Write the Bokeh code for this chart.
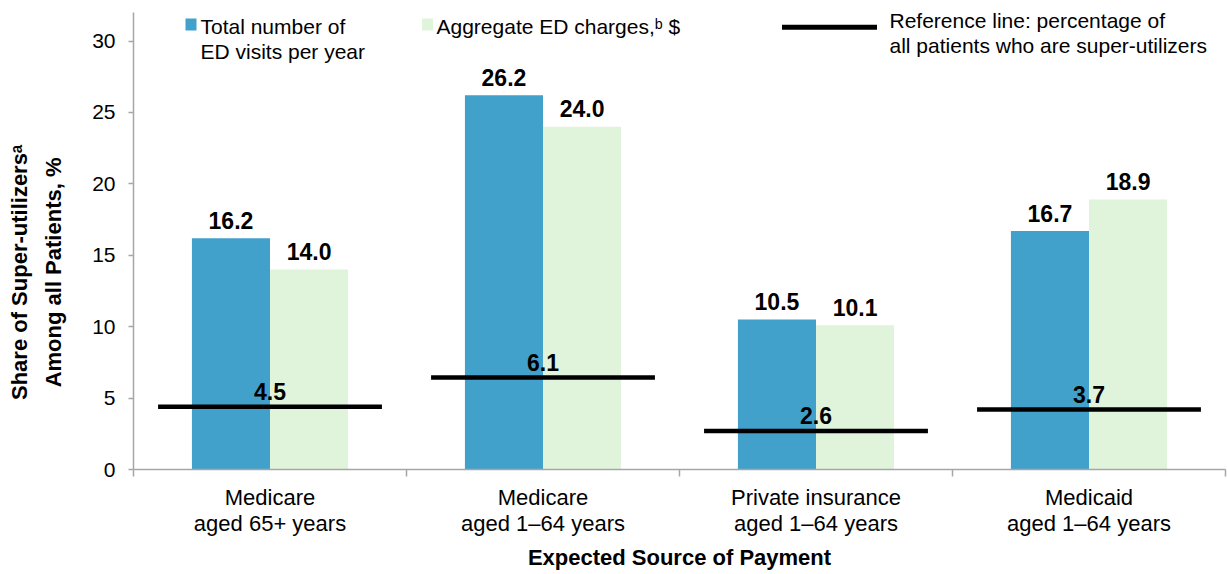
from bokeh.plotting import figure
from bokeh.models import (LinearAxis, FixedTicker, Range1d, ColumnDataSource, Label, BoxAnnotation)
from bokeh.embed import file_html
from bokeh.resources import INLINE
from bokeh.core.properties import value
from bokeh.transform import dodge

# ---- data ----
cat_line1 = ["Medicare", "Medicare", "Private insurance", "Medicaid"]
cat_line2 = ["aged 65+ years", "aged 1\u201364 years", "aged 1\u201364 years", "aged 1\u201364 years"]
ed_visits = [16.2, 26.2, 10.5, 16.7]
ed_charges = [14.0, 24.0, 10.1, 18.9]
ref_label = [4.5, 6.1, 2.6, 3.7]
ref_line_drawn = [4.4, 6.45, 2.7, 4.2]
y_ticks = [0, 5, 10, 15, 20, 25, 30]
y_title_1 = "Share of Super-utilizers\u1d43"
y_title_2 = "Among all Patients, %"
x_title = "Expected Source of Payment"

FONT = "Liberation Sans"
BLUE = "#42A1CB"
GREEN = "#E0F3DB"
AXIS = "#A6A6A6"

n = len(cat_line1)
centers = [i + 0.5 for i in range(n)]
src = ColumnDataSource(dict(
    xc=centers,
    visits=ed_visits, charges=ed_charges,
    visits_lbl=[f"{v:.1f}" for v in ed_visits],
    charges_lbl=[f"{v:.1f}" for v in ed_charges],
    ref=ref_line_drawn,
    ref_lbl=[f"{v:.1f}" for v in ref_label],
))

p = figure(width=1227, height=574, x_range=Range1d(0, n), y_range=Range1d(0, 32),
           output_backend="svg", toolbar_location=None,
           min_border_left=133, min_border_right=2, min_border_top=12, min_border_bottom=105)
p.outline_line_color = None
p.xgrid.visible = False
p.ygrid.visible = False
p.background_fill_color = "white"

BW = 0.286
p.vbar(x=dodge("xc", -BW / 2, range=p.x_range), top="visits", width=BW, bottom=0,
       source=src, fill_color=BLUE, line_color=None)
p.vbar(x=dodge("xc", BW / 2, range=p.x_range), top="charges", width=BW, bottom=0,
       source=src, fill_color=GREEN, line_color=None)

lbl_kw = dict(text_font=value(FONT), text_font_style="bold", text_font_size="23px",
              text_align="center", text_baseline="alphabetic", text_color="black", source=src)
p.text(x=dodge("xc", -BW / 2, range=p.x_range), y="visits", text="visits_lbl", y_offset=-18, **lbl_kw)
p.text(x=dodge("xc", BW / 2, range=p.x_range), y="charges", text="charges_lbl", y_offset=-18, **lbl_kw)

p.segment(x0=dodge("xc", -0.41, range=p.x_range), x1=dodge("xc", 0.41, range=p.x_range),
          y0="ref", y1="ref", source=src, line_color="black", line_width=4.5, line_cap="butt")
p.text(x="xc", y="ref", text="ref_lbl", y_offset=-15, **lbl_kw)

# ---- x axes ----
xa = p.xaxis[0]
xa.ticker = FixedTicker(ticks=centers, minor_ticks=list(range(n + 1)))
xa.major_label_overrides = {c: t for c, t in zip(centers, cat_line1)}
xa.major_tick_line_color = None
xa.major_tick_out = 7
xa.major_tick_in = 0
xa.minor_tick_out = 7
xa.minor_tick_in = 0
xa.minor_tick_line_color = AXIS
xa.minor_tick_line_width = 1.5
xa.axis_line_color = AXIS
xa.axis_line_width = 1.5
xa.major_label_standoff = 8
xa.major_label_text_font = FONT
xa.major_label_text_font_size = "22px"
xa.major_label_text_color = "black"

xa2 = LinearAxis(ticker=FixedTicker(ticks=centers, minor_ticks=[]),
                 major_label_overrides={c: t for c, t in zip(centers, cat_line2)},
                 axis_line_color=None, major_tick_line_color=None, minor_tick_line_color=None,
                 major_tick_out=0, major_tick_in=0, minor_tick_out=0, minor_tick_in=0,
                 major_label_standoff=-2,
                 major_label_text_font=FONT, major_label_text_font_size="22px",
                 major_label_text_color="black",
                 axis_label=x_title, axis_label_standoff=6,
                 axis_label_text_font=FONT, axis_label_text_font_style="bold",
                 axis_label_text_font_size="22px", axis_label_text_color="black")
p.add_layout(xa2, "below")

# ---- y axes ----
ya = p.yaxis[0]
ya.ticker = FixedTicker(ticks=y_ticks, minor_ticks=[])
ya.bounds = (0, 32)
ya.major_tick_out = 5
ya.major_tick_in = 0
ya.major_tick_line_color = AXIS
ya.major_tick_line_width = 1.5
ya.axis_line_color = AXIS
ya.axis_line_width = 1.5
ya.major_label_standoff = 13
ya.major_label_text_font = FONT
ya.major_label_text_font_size = "21px"
ya.major_label_text_color = "black"

Y_TITLE_AT = 13.8  # vertical centre of the two-line axis title (as in the reference)


def title_axis(text, standoff):
    return LinearAxis(ticker=FixedTicker(ticks=[Y_TITLE_AT], minor_ticks=[]),
                      major_label_overrides={Y_TITLE_AT: text},
                      major_label_orientation="vertical",
                      axis_line_color=None, major_tick_line_color=None, minor_tick_line_color=None,
                      major_tick_out=0, major_tick_in=0, minor_tick_out=0, minor_tick_in=0,
                      major_label_standoff=standoff,
                      major_label_text_font=FONT, major_label_text_font_style="bold",
                      major_label_text_font_size="22px", major_label_text_color="black")


p.add_layout(title_axis(y_title_2, 23), "left")
p.add_layout(title_axis(y_title_1, 6), "left")

# ---- legend (custom, frame-relative screen units) ----
leg_txt = dict(x_units="screen", y_units="screen", text_font=FONT, text_font_size="21px",
               text_baseline="middle", text_align="left", text_color="black")
box_units = dict(left_units="screen", right_units="screen",
                 bottom_units="screen", top_units="screen", fill_alpha=1, line_color=None)
p.add_layout(BoxAnnotation(left=52, right=63, bottom=439, top=451, fill_color=BLUE, **box_units))
p.add_layout(Label(x=67, y=443.5, text="Total number of", **leg_txt))
p.add_layout(Label(x=67, y=418, text="ED visits per year", **leg_txt))

p.add_layout(BoxAnnotation(left=288.5, right=299.5, bottom=439, top=451, fill_color=GREEN, **box_units))
p.add_layout(Label(x=303, y=443.5, text="Aggregate ED charges,\u1d47 $", **leg_txt))

p.add_layout(BoxAnnotation(left=648.5, right=743.5, bottom=439.8, top=444.8,
                           fill_color="black", **box_units))
p.add_layout(Label(x=756, y=449, text="Reference line: percentage of", **leg_txt))
p.add_layout(Label(x=756, y=424, text="all patients  who are super-utilizers", **leg_txt))

open("out.html", "w").write(file_html(p, INLINE))
